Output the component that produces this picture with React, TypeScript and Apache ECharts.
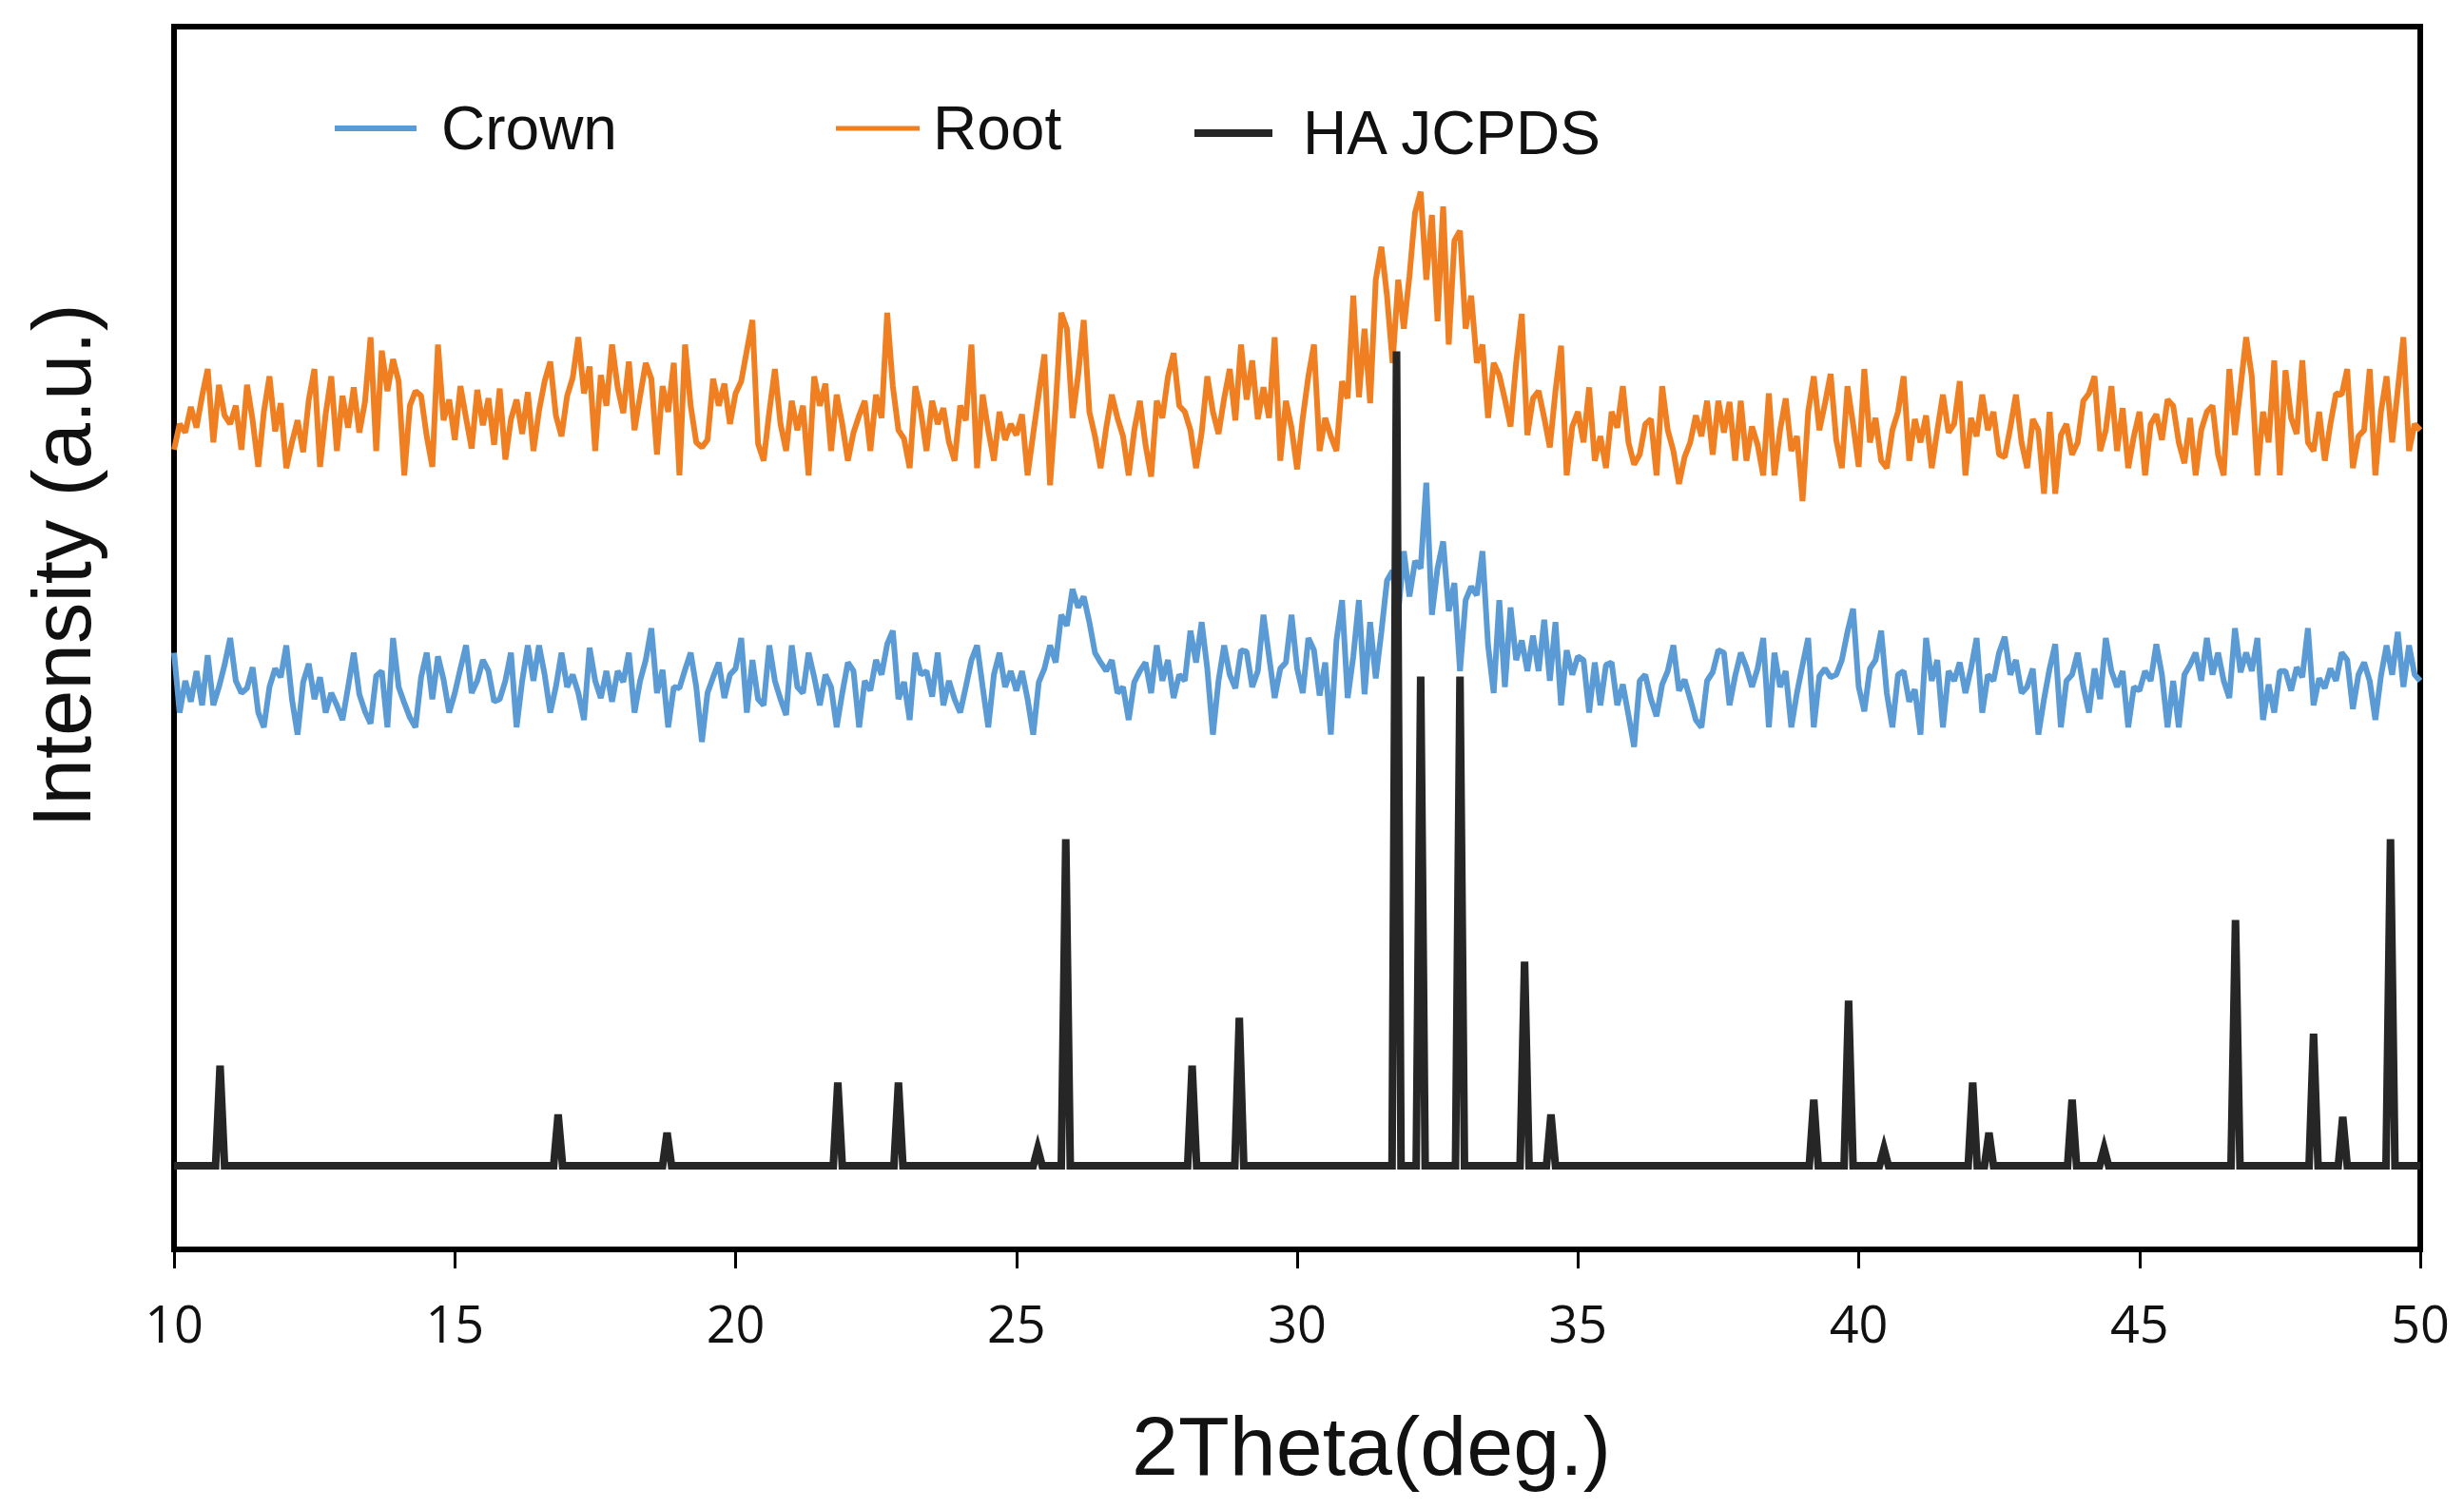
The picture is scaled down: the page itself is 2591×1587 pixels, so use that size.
import React, { useEffect, useRef } from "react";
import * as echarts from "echarts";

// 2θ grid of the measured patterns
const START_2THETA = 10;
const STEP_2THETA = 0.1;

// Root pattern (offset intensity, a.u.), 10.0° .. 50.0° every 0.1°
const rootValues = [
  65.4, 67.5, 66.8, 68.9, 67.2, 69.8, 72.0, 66.0, 70.7, 68.2,
  67.5, 69.0, 65.4, 70.7, 67.8, 64.0, 68.5, 71.4, 66.9, 69.2,
  63.9, 66.0, 67.8, 65.2, 69.5, 72.0, 64.0, 68.3, 71.4, 65.3,
  69.8, 67.2, 70.5, 66.8, 69.3, 74.6, 65.3, 73.5, 70.2, 72.8,
  71.0, 63.3, 69.0, 70.2, 69.8, 66.5, 64.0, 74.0, 67.8, 69.5,
  66.2, 70.6, 68.0, 65.5, 70.3, 67.4, 69.6, 65.8, 70.4, 64.6,
  67.9, 69.5, 66.7, 70.1, 65.3, 68.6, 71.0, 72.6, 68.2, 66.5,
  69.8, 71.3, 74.6, 70.0, 72.2, 65.3, 71.5, 69.0, 74.0, 70.5,
  68.4, 72.6, 67.0, 69.8, 72.5, 71.2, 65.0, 70.6, 68.5, 72.5,
  63.3, 74.0, 69.0, 66.0, 65.6, 66.2, 71.2, 69.0, 70.8, 67.5,
  70.0, 71.0, 73.5, 76.0, 65.9, 64.5, 68.5, 72.0, 67.5, 65.3,
  69.4, 67.0, 69.0, 63.3, 71.4, 69.0, 70.8, 65.3, 69.9, 67.5,
  64.5, 66.8, 68.2, 69.4, 65.3, 69.9, 68.0, 76.6, 70.6, 67.0,
  66.3, 63.9, 70.6, 68.5, 65.3, 69.4, 67.5, 68.8, 66.0, 64.5,
  69.0, 67.8, 74.0, 63.9, 69.9, 67.0, 64.5, 68.5, 66.2, 67.5,
  66.6, 68.3, 63.3, 66.7, 70.0, 73.2, 62.5, 69.0, 76.6, 75.3,
  68.0, 71.5, 76.0, 68.5, 66.5, 63.9, 67.2, 69.9, 68.0, 66.5,
  63.3, 67.0, 69.4, 65.8, 63.2, 69.4, 68.0, 71.4, 73.3, 69.0,
  68.5, 67.0, 63.9, 66.8, 71.4, 68.5, 66.7, 69.6, 72.0, 67.8,
  74.0, 69.5, 72.7, 67.9, 70.5, 68.0, 74.6, 64.5, 69.4, 67.2,
  63.8, 68.0, 71.4, 74.0, 65.3, 68.0, 66.5, 65.3, 71.0, 69.6,
  78.0, 69.7, 75.3, 69.2, 79.3, 82.0, 78.0, 72.5, 79.3, 75.3,
  79.6, 84.8, 86.5, 79.3, 84.6, 75.9, 85.3, 74.0, 82.5, 83.3,
  75.3, 78.0, 72.5, 74.0, 68.0, 72.5, 71.5, 69.5, 67.3, 72.5,
  76.5, 66.6, 69.6, 70.2, 68.0, 65.6, 70.2, 73.9, 63.3, 67.3,
  68.5, 66.0, 70.5, 64.5, 66.5, 63.9, 68.5, 67.2, 70.6, 66.0,
  64.2, 65.0, 67.5, 67.9, 63.3, 70.6, 67.0, 65.3, 62.6, 64.8,
  66.0, 68.2, 66.5, 69.4, 65.0, 69.4, 66.8, 69.3, 64.5, 69.4,
  64.5, 67.3, 65.8, 63.3, 70.0, 63.3, 67.0, 69.6, 65.3, 66.5,
  61.2, 68.5, 71.4, 67.0, 69.2, 71.6, 66.2, 63.9, 70.6, 67.5,
  64.0, 72.0, 66.0, 68.0, 64.5, 63.9, 67.0, 68.5, 71.4, 64.5,
  67.9, 66.0, 68.2, 63.9, 67.0, 69.9, 66.8, 67.5, 71.0, 63.3,
  68.0, 66.5, 69.9, 67.0, 68.5, 65.0, 64.8, 67.2, 69.9, 66.0,
  63.9, 67.9, 67.0, 61.8, 68.5, 61.8, 66.6, 67.5, 65.0, 66.0,
  69.4, 70.0, 71.4, 65.3, 67.0, 70.6, 65.3, 68.8, 63.9, 66.5,
  68.5, 63.3, 67.5, 68.3, 66.2, 69.5, 69.0, 66.0, 64.3, 68.0,
  63.3, 67.0, 68.5, 69.0, 65.0, 63.3, 72.0, 66.6, 70.5, 74.6,
  71.4, 63.3, 68.5, 66.0, 72.7, 63.3, 71.9, 68.0, 66.7, 72.7,
  66.0, 65.3, 68.5, 64.5, 67.5, 70.0, 69.9, 72.0, 63.9, 66.5,
  67.0, 72.0, 63.3, 68.5, 71.4, 66.0, 70.3, 74.6, 65.3, 67.5,
  67.0,
];

// Crown pattern (offset intensity, a.u.), 10.0° .. 50.0° every 0.1°
const crownValues = [
  48.8, 43.9, 46.5, 44.8, 47.3, 44.5, 48.6, 44.5, 46.0, 47.8,
  50.0, 46.5, 45.5, 45.9, 47.6, 43.9, 42.7, 46.0, 47.5, 46.8,
  49.4, 45.0, 42.1, 46.4, 47.9, 45.0, 46.8, 43.9, 45.5, 44.5,
  43.3, 46.0, 48.8, 45.4, 44.0, 43.0, 46.9, 47.3, 42.7, 50.0,
  46.0, 44.7, 43.5, 42.7, 46.8, 48.8, 45.0, 48.5, 46.6, 43.9,
  45.5, 47.5, 49.4, 45.5, 46.5, 48.2, 47.3, 44.8, 45.0, 46.5,
  48.8, 42.7, 46.5, 49.4, 46.5, 49.4, 47.0, 43.9, 46.0, 48.8,
  46.0, 47.0, 45.5, 43.3, 49.2, 46.5, 45.1, 47.3, 44.8, 47.3,
  46.4, 48.8, 43.9, 46.5, 48.2, 50.8, 45.5, 47.4, 42.7, 46.0,
  45.9, 47.4, 48.8, 46.0, 41.5, 45.5, 46.8, 48.0, 45.1, 47.0,
  47.5, 50.0, 43.9, 48.2, 45.0, 44.5, 49.4, 46.5, 45.0, 43.7,
  49.4, 46.0, 45.5, 48.8, 46.8, 44.5, 47.0, 46.0, 42.7, 45.5,
  48.0, 47.3, 42.7, 46.5, 45.7, 48.2, 47.0, 49.5, 50.6, 45.0,
  46.4, 43.3, 48.8, 47.0, 47.3, 45.2, 48.8, 44.5, 46.5, 45.0,
  43.9, 46.0, 48.2, 49.4, 46.0, 42.7, 47.0, 48.8, 46.0, 47.3,
  45.7, 47.3, 45.0, 42.1, 46.4, 47.5, 49.4, 48.0, 51.9, 51.0,
  54.0, 52.5, 53.4, 51.3, 48.8, 48.0, 47.3, 48.2, 45.5, 46.0,
  43.3, 46.4, 47.3, 48.0, 45.5, 49.4, 46.5, 48.2, 45.1, 47.0,
  46.5, 50.6, 48.0, 51.3, 47.5, 42.1, 46.5, 49.4, 47.0, 45.9,
  49.0, 48.9, 46.0, 47.3, 51.9, 48.5, 45.1, 47.5, 48.0, 51.9,
  47.5, 45.5, 50.0, 49.0, 45.3, 48.0, 42.1, 49.8, 53.1, 45.1,
  48.5, 53.1, 45.4, 51.3, 46.7, 50.5, 54.7, 55.5, 52.0, 57.1,
  53.4, 56.3, 55.7, 62.7, 51.9, 55.7, 57.9, 52.2, 54.5, 47.3,
  53.1, 54.2, 53.5, 57.1, 49.4, 45.5, 53.1, 46.0, 52.5, 48.2,
  49.8, 47.3, 50.2, 47.3, 51.5, 46.5, 51.3, 44.5, 49.0, 47.0,
  48.5, 48.2, 43.9, 48.0, 44.5, 47.8, 48.0, 44.5, 46.2, 43.7,
  41.1, 46.5, 47.0, 45.0, 43.6, 46.2, 47.3, 49.4, 45.7, 46.6,
  45.0, 43.3, 42.7, 46.5, 47.2, 49.0, 48.8, 44.5, 46.9, 48.8,
  47.6, 46.0, 47.5, 50.0, 42.7, 48.8, 46.0, 47.3, 42.7, 45.5,
  47.8, 50.0, 42.7, 46.9, 47.5, 46.8, 47.0, 48.2, 50.5, 52.4,
  46.0, 44.0, 47.5, 48.2, 50.6, 45.5, 42.7, 47.0, 47.3, 44.8,
  45.8, 42.1, 50.0, 46.5, 48.2, 42.7, 47.3, 46.5, 48.0, 45.5,
  47.5, 50.0, 43.9, 47.0, 46.5, 48.8, 50.1, 47.0, 48.2, 45.5,
  46.0, 47.5, 42.1, 45.0, 47.5, 49.5, 42.7, 46.5, 47.0, 48.8,
  46.0, 43.9, 47.5, 45.0, 50.0, 47.3, 46.0, 47.3, 42.7, 46.0,
  45.7, 47.3, 46.5, 49.5, 47.0, 42.7, 46.5, 42.7, 47.0, 47.8,
  48.8, 46.5, 50.0, 47.0, 48.8, 46.5, 45.1, 50.8, 47.2, 48.8,
  47.3, 50.0, 43.3, 46.2, 43.9, 47.3, 47.3, 45.7, 47.6, 46.8,
  50.8, 44.5, 46.7, 45.9, 47.5, 46.5, 48.8, 48.2, 44.2, 47.0,
  48.0, 46.5, 43.3, 46.9, 49.4, 47.0, 50.5, 46.0, 49.4, 47.0,
  46.5,
];

// HA JCPDS reference stick pattern
const haBaseline = 6.84;
const haPeakPositions = [
  10.82, 16.84, 18.78, 21.82, 22.9, 25.38, 25.88, 28.13, 28.97, 31.77,
  32.2, 32.9, 34.05, 34.52, 39.2, 39.82, 40.45, 42.03, 42.32, 43.8,
  44.37, 46.71, 48.1, 48.62, 49.47,
];
const haPeakHeights = [
  8.2, 4.2, 2.7, 6.8, 6.8, 1.4, 26.7, 8.2, 12.1, 66.6,
  40.0, 40.0, 16.7, 4.2, 5.4, 13.5, 1.4, 6.8, 2.7, 5.4,
  1.4, 20.1, 10.8, 4.0, 26.7,
];
const haHalfWidth = 0.08;

const xTickLabels = ["10", "15", "20", "25", "30", "35", "40", "45", "50"];
const seriesNames = ["Crown", "Root", "HA JCPDS"];

const COLORS = { crown: "#5B9BD5", root: "#F07F22", ha: "#262626" };

function toPairs(vals: number[]) {
  return vals.map((v, i) => [+(START_2THETA + i * STEP_2THETA).toFixed(2), v]);
}

function haPairs() {
  const out: number[][] = [[10, haBaseline]];
  haPeakPositions.forEach((p, i) => {
    out.push([p - haHalfWidth, haBaseline]);
    out.push([p, haBaseline + haPeakHeights[i]]);
    out.push([p + haHalfWidth, haBaseline]);
  });
  out.push([50, haBaseline]);
  return out;
}

export default function App() {
  const ref = useRef<HTMLDivElement>(null);

  useEffect(() => {
    if (!ref.current) return;
    const chart = echarts.init(ref.current, undefined, { renderer: "svg" });
    const legendText = {
      fontFamily: "Liberation Sans, Arial, sans-serif",
      fontSize: 64,
      color: "#111",
      padding: [0, 0, 0, 21],
    };
    chart.setOption({
      animation: false,
      backgroundColor: "#ffffff",
      grid: {
        left: 183,
        right: 46,
        top: 28,
        bottom: 273,
        show: true,
        borderColor: "#000",
        borderWidth: 6,
        backgroundColor: "transparent",
      },
      legend: [
        {
          data: [seriesNames[0]],
          left: 352,
          top: 103,
          padding: 0,
          icon: "rect",
          itemWidth: 86,
          itemHeight: 6,
          textStyle: legendText,
        },
        {
          data: [seriesNames[1]],
          left: 879,
          top: 103,
          padding: 0,
          icon: "rect",
          itemWidth: 88,
          itemHeight: 5,
          textStyle: { ...legendText, padding: [0, 0, 0, 9] },
        },
        {
          data: [seriesNames[2]],
          left: 1256,
          top: 108,
          padding: 0,
          icon: "rect",
          itemWidth: 82,
          itemHeight: 8,
          textStyle: { ...legendText, padding: [0, 0, 0, 27] },
        },
      ],
      xAxis: {
        type: "value",
        min: 10,
        max: 50,
        interval: 5,
        splitLine: { show: false },
        axisLine: { show: true, lineStyle: { color: "#000", width: 6 } },
        axisTick: {
          show: true,
          inside: false,
          length: 20,
          lineStyle: { color: "#000", width: 3 },
        },
        axisLabel: {
          margin: 50,
          fontFamily: "Open Sans, DejaVu Sans, sans-serif",
          fontSize: 54,
          color: "#111",
          formatter: (v: number) => {
            const idx = Math.round((v - 10) / 5);
            return xTickLabels[idx] ?? String(v);
          },
        },
      },
      yAxis: {
        type: "value",
        min: 0,
        max: 100,
        show: false,
        splitLine: { show: false },
      },
      graphic: [
        {
          type: "text",
          x: 1442,
          y: 1520,
          style: {
            text: "2Theta(deg.)",
            fontFamily: "Liberation Sans, Arial, sans-serif",
            fontSize: 88,
            fill: "#111",
            textAlign: "center",
            textVerticalAlign: "middle",
          },
        },
        {
          type: "text",
          x: 64,
          y: 595,
          rotation: Math.PI / 2,
          style: {
            text: "Intensity (a.u.)",
            fontFamily: "Liberation Sans, Arial, sans-serif",
            fontSize: 87,
            fill: "#111",
            textAlign: "center",
            textVerticalAlign: "middle",
          },
        },
      ],
      series: [
        {
          name: seriesNames[1],
          type: "line",
          data: toPairs(rootValues),
          showSymbol: false,
          symbol: "none",
          lineStyle: { color: COLORS.root, width: 6 },
          itemStyle: { color: COLORS.root },
          z: 2,
        },
        {
          name: seriesNames[0],
          type: "line",
          data: toPairs(crownValues),
          showSymbol: false,
          symbol: "none",
          lineStyle: { color: COLORS.crown, width: 6 },
          itemStyle: { color: COLORS.crown },
          z: 3,
        },
        {
          name: seriesNames[2],
          type: "line",
          data: haPairs(),
          showSymbol: false,
          symbol: "none",
          lineStyle: { color: COLORS.ha, width: 8, join: "miter" },
          itemStyle: { color: COLORS.ha },
          z: 4,
        },
      ],
    });
    return () => chart.dispose();
  }, []);

  return (
    <div
      ref={ref}
      style={{ position: "absolute", left: 0, top: 0, width: 2591, height: 1587 }}
    />
  );
}
